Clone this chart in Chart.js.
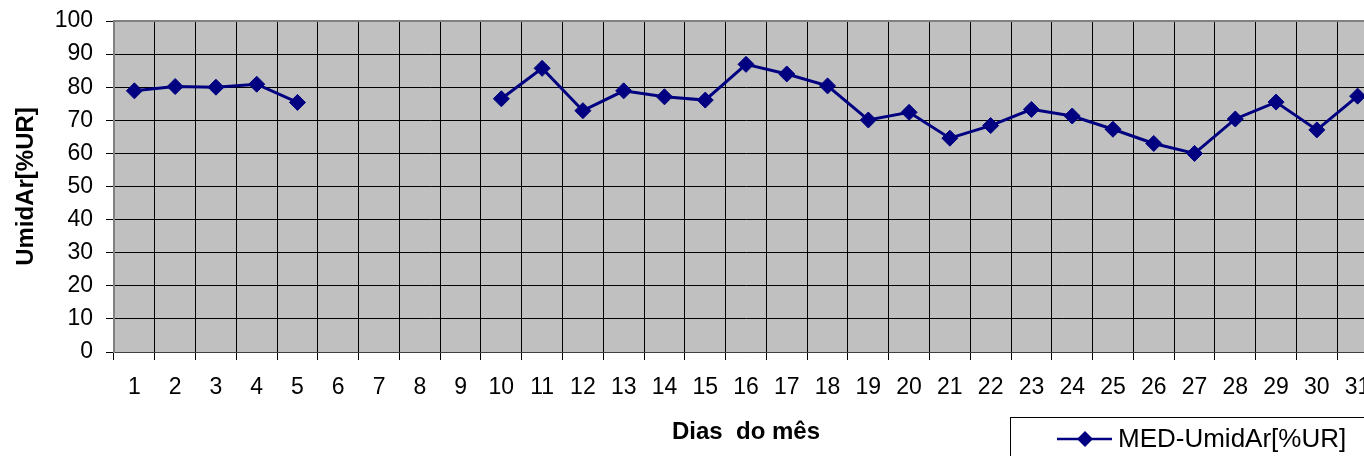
<!DOCTYPE html>
<html>
<head>
<meta charset="utf-8">
<script src="https://cdn.jsdelivr.net/npm/chart.js@4/dist/chart.umd.min.js"></script>
<style>
    html, body { margin: 0; padding: 0; background: #fff; overflow: hidden; }
    #wrap { width: 1400px; height: 456px; }
</style>
</head>
<body>
<div id="wrap"><canvas id="umidChart" width="1400" height="456"></canvas></div>
<script>
// Daily mean relative humidity
var days = ['1', '2', '3', '4', '5', '6', '7', '8', '9', '10', '11', '12', '13', '14', '15', '16',
            '17', '18', '19', '20', '21', '22', '23', '24', '25', '26', '27', '28', '29', '30', '31'];
var umidade = [78.9, 80.2, 80.0, 80.9, 75.4, null, null, null, null, 76.5, 85.7, 72.9, 78.9, 77.1, 76.1, 86.9,
               84.0, 80.4, 70.1, 72.4, 64.6, 68.4, 73.3, 71.3, 67.3, 63.0, 60.0, 70.4, 75.5, 67.1, 77.3];
var yTicks = [0, 10, 20, 30, 40, 50, 60, 70, 80, 90, 100];
var seriesLabel = 'MED-UmidAr[%UR]';

var fontFamily = 'Liberation Sans, Arial, sans-serif';
var navy = '#000080';

// grey plot background + frame, and the boxed legend bottom right
var plotDecor = {
    id: 'plotDecor',
    beforeDraw: function(chart) {
        var a = chart.chartArea, ctx = chart.ctx;
        ctx.save();
        ctx.fillStyle = '#c0c0c0';
        ctx.fillRect(a.left, a.top, a.right - a.left, a.bottom - a.top);
        ctx.restore();
    },
    beforeDatasetsDraw: function(chart) {
        var a = chart.chartArea, ctx = chart.ctx;
        ctx.save();
        ctx.strokeStyle = '#808080';
        ctx.lineWidth = 2;
        ctx.beginPath();
        ctx.moveTo(a.left, a.bottom);
        ctx.lineTo(a.left, a.top);
        ctx.lineTo(a.right, a.top);
        ctx.stroke();
        ctx.restore();
    },
    afterDraw: function(chart) {
        var ctx = chart.ctx;
        var ds = chart.data.datasets[0];
        ctx.save();
        ctx.strokeStyle = '#000';
        ctx.lineWidth = 1;
        ctx.strokeRect(1010.5, 417.5, 420, 60);
        ctx.strokeStyle = ds.borderColor;
        ctx.lineWidth = 2.5;
        ctx.beginPath();
        ctx.moveTo(1057, 439);
        ctx.lineTo(1112, 439);
        ctx.stroke();
        ctx.fillStyle = ds.pointBackgroundColor;
        ctx.beginPath();
        ctx.moveTo(1085, 431);
        ctx.lineTo(1093, 439);
        ctx.lineTo(1085, 447);
        ctx.lineTo(1077, 439);
        ctx.closePath();
        ctx.fill();
        ctx.fillStyle = '#000';
        ctx.font = '26px ' + fontFamily;
        ctx.textBaseline = 'middle';
        ctx.textAlign = 'left';
        ctx.fillText(ds.label, 1118, 440);
        ctx.restore();
    }
};

var ctx = document.getElementById('umidChart').getContext('2d');
new Chart(ctx, {
    type: 'line',
    data: {
        labels: days,
        datasets: [{
            label: seriesLabel,
            data: umidade,
            borderColor: navy,
            backgroundColor: navy,
            borderWidth: 3,
            pointStyle: 'rectRot',
            pointRadius: 8,
            pointBackgroundColor: navy,
            pointBorderColor: navy,
            pointBorderWidth: 1,
            spanGaps: false,
            tension: 0
        }]
    },
    options: {
        responsive: false,
        animation: false,
        layout: {
            padding: { top: 21, right: 22, bottom: 0, left: 0 }
        },
        plugins: {
            legend: { display: false },
            tooltip: { enabled: false }
        },
        scales: {
            x: {
                offset: true,
                grid: {
                    offset: true,
                    color: '#000',
                    lineWidth: 1,
                    tickLength: 8,
                    tickColor: '#000'
                },
                border: { color: '#404040', width: 1 },
                ticks: {
                    color: '#000',
                    font: { family: fontFamily, size: 23 },
                    padding: 14,
                    maxRotation: 0,
                    autoSkip: false
                },
                title: {
                    display: true,
                    text: 'Dias  do mês',
                    color: '#000',
                    font: { family: fontFamily, size: 24, weight: 'bold' },
                    padding: { top: 0, bottom: 9 }
                },
                afterFit: function(scale) {
                    scale.height = 104;
                    scale.paddingLeft = 0;
                    scale.paddingRight = 0;
                }
            },
            y: {
                min: 0,
                max: 100,
                afterBuildTicks: function(scale) {
                    scale.ticks = yTicks.map(function(v) { return { value: v }; });
                },
                grid: {
                    color: '#000',
                    lineWidth: 1,
                    tickLength: 8,
                    tickColor: '#000'
                },
                border: { color: '#808080', width: 2 },
                ticks: {
                    color: '#000',
                    font: { family: fontFamily, size: 23 },
                    padding: 13
                },
                title: {
                    display: true,
                    text: 'UmidAr[%UR]',
                    color: '#000',
                    font: { family: fontFamily, size: 24, weight: 'bold' },
                    padding: { top: 12, bottom: 0 }
                },
                afterFit: function(scale) {
                    scale.width = 114;
                    scale.paddingTop = 0;
                    scale.paddingBottom = 0;
                }
            }
        }
    },
    plugins: [plotDecor]
});
</script>
</body>
</html>
